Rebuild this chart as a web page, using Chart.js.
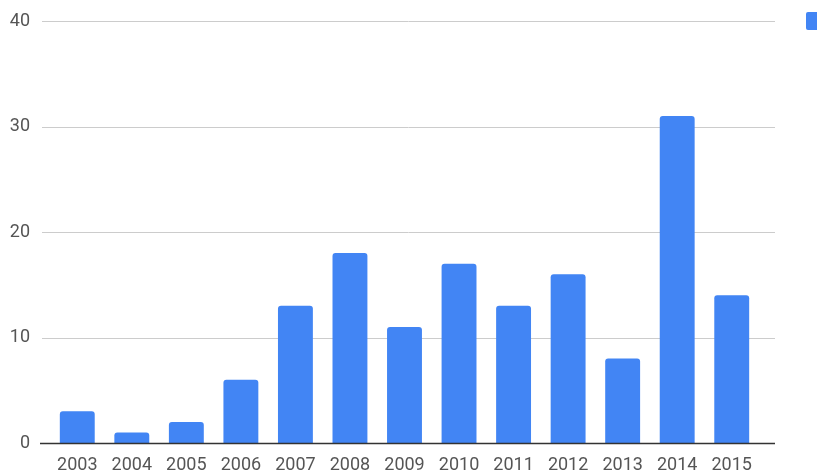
<!DOCTYPE html>
<html>
<head>
<meta charset="utf-8">
<script src="https://cdn.jsdelivr.net/npm/chart.js@4/dist/chart.umd.min.js"></script>
<style>
  html, body { margin: 0; padding: 0; background: #fff; overflow: hidden; }
  #wrap { position: relative; width: 817px; height: 470px; }
</style>
</head>
<body>
<div id="wrap"><canvas id="chart"></canvas></div>
<script>
// Chart data
const years = ['2003', '2004', '2005', '2006', '2007', '2008', '2009', '2010', '2011', '2012', '2013', '2014', '2015'];
const counts = [3, 1, 2, 6, 13, 18, 11, 17, 13, 16, 8, 31, 14];
const yTicks = [0, 10, 20, 30, 40];

const barColor = '#4285f4';

// gridlines run a little past the plot area, like the source chart
const gridPlugin = {
  id: 'wideGrid',
  beforeDatasetsDraw(chart) {
    const { ctx, chartArea, scales } = chart;
    ctx.save();
    yTicks.forEach(v => {
      const y = Math.round(scales.y.getPixelForValue(v)) + 0.5;
      ctx.beginPath();
      ctx.strokeStyle = '#cccccc';
      ctx.lineWidth = 1;
      ctx.moveTo(chartArea.left - 8, y);
      ctx.lineTo(chartArea.right + 16, y);
      ctx.stroke();
    });
    ctx.restore();
  },
  afterDatasetsDraw(chart) {
    const { ctx, chartArea, scales } = chart;
    const y = Math.round(scales.y.getPixelForValue(0)) + 0.5;
    ctx.save();
    ctx.beginPath();
    ctx.strokeStyle = '#333333';
    ctx.lineWidth = 1.5;
    ctx.moveTo(chartArea.left - 10, y);
    ctx.lineTo(chartArea.right + 16, y);
    ctx.stroke();
    // legend swatch, its label falls outside the picture
    ctx.fillStyle = barColor;
    ctx.beginPath();
    ctx.roundRect(chartArea.right + 47, 12, 18, 18, 2);
    ctx.fill();
    ctx.restore();
  }
};

const ctx = document.getElementById('chart').getContext('2d');
new Chart(ctx, {
  type: 'bar',
  data: {
    labels: years,
    datasets: [{
      label: 'Count',
      data: counts,
      backgroundColor: barColor,
      borderRadius: { topLeft: 3, topRight: 3 },
      borderSkipped: 'bottom',
      categoryPercentage: 1,
      barPercentage: 0.64
    }]
  },
  options: {
    responsive: true,
    maintainAspectRatio: false,
    animation: false,
    layout: { padding: { top: 21, right: 58, left: 0, bottom: 0 } },
    plugins: {
      legend: { display: false },
      tooltip: { enabled: false }
    },
    scales: {
      x: {
        grid: { display: false, drawTicks: false },
        border: { display: false },
        ticks: {
          color: '#555',
          font: { family: 'Roboto', size: 18 },
          padding: 12,
          maxRotation: 0,
          autoSkip: false
        },
        afterFit(scale) { scale.height = 27; }
      },
      y: {
        min: 0,
        max: 40,
        grid: { display: false, drawTicks: false },
        border: { display: false },
        afterBuildTicks(scale) { scale.ticks = yTicks.map(v => ({ value: v })); },
        ticks: {
          color: '#555',
          font: { family: 'Roboto', size: 18 },
          padding: 20
        },
        afterFit(scale) {
          scale.width = 50;
          // tick padding would otherwise push the plot down from the top
          scale.paddingTop = 0;
          scale.paddingBottom = 0;
        }
      }
    }
  },
  plugins: [gridPlugin]
});
</script>
</body>
</html>
